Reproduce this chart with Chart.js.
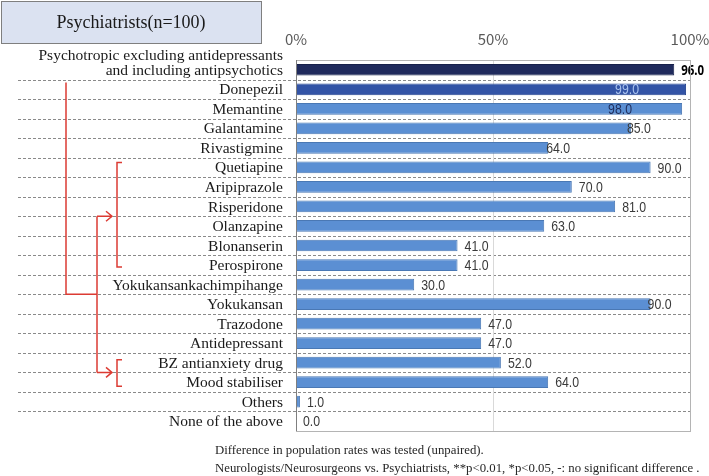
<!DOCTYPE html>
<html>
<head>
<meta charset="utf-8">
<script src="https://cdn.jsdelivr.net/npm/chart.js@4/dist/chart.umd.min.js"></script>
<style>
  html, body { margin: 0; padding: 0; background: #fff; }
  canvas { display: block; }
</style>
</head>
<body>
<canvas id="usageChart" width="709" height="476"></canvas>
<script>
// Chart data
const panelTitle = 'Psychiatrists(n=100)';
const categories = [
  ['Psychotropic excluding antidepressants', 'and including antipsychotics'],
  'Donepezil', 'Memantine', 'Galantamine', 'Rivastigmine',
  'Quetiapine', 'Aripiprazole', 'Risperidone', 'Olanzapine', 'Blonanserin', 'Perospirone',
  'Yokukansankachimpihange', 'Yokukansan', 'Trazodone', 'Antidepressant',
  'BZ antianxiety drug', 'Mood stabiliser', 'Others', 'None of the above'
];
const shares = [96.0, 99.0, 98.0, 85.0, 64.0, 90.0, 70.0, 81.0, 63.0, 41.0, 41.0, 30.0, 90.0, 47.0, 47.0, 52.0, 64.0, 1.0, 0.0];
const xTickLabels = ['0%', '50%', '100%'];
const footnotes = [
  'Difference in population rates was tested (unpaired).',
  'Neurologists/Neurosurgeons vs. Psychiatrists, **p<0.01, *p<0.05, -: no significant difference .'
];

// bar colours by row
function barColor(i) {
  if (i === 0) return '#1f2a5c';
  if (i === 1) return '#3354a6';
  return '#5b8fd3';
}
function barBorder(i) {
  if (i === 0) return '#17204a';
  if (i === 1) return '#2a4790';
  return '#4a78b4';
}

// value label tweaks (label start relative to bar end)
const labelShift = { 1: -71, 2: -74, 3: -4, 4: -2, 12: -3 };
const labelColor = { 0: '#000000', 1: '#a9c2ef', 2: '#1f2d5c' };

const serif = '"Liberation Serif", "DejaVu Serif", serif';

const decorPlugin = {
  id: 'decor',
  beforeDraw(chart) {
    const ctx = chart.ctx;
    const area = chart.chartArea;
    const y = chart.scales.y;
    const band = y.getPixelForValue(1) - y.getPixelForValue(0);

    // title box
    ctx.save();
    ctx.fillStyle = '#dbe2f1';
    ctx.fillRect(1, 1, 261, 43);
    ctx.strokeStyle = '#7f7f7f';
    ctx.lineWidth = 1;
    ctx.strokeRect(1.5, 1.5, 260, 42);
    ctx.fillStyle = '#1a1a1a';
    ctx.font = '18px ' + serif;
    ctx.textAlign = 'center';
    ctx.textBaseline = 'middle';
    ctx.fillText(panelTitle, 131, 23);

    // dashed row separators
    ctx.strokeStyle = '#8a8a8a';
    ctx.setLineDash([3, 2]);
    for (let i = 1; i < categories.length; i++) {
      const yy = Math.round(y.getPixelForValue(i) - band / 2) + 0.5;
      ctx.beginPath();
      ctx.moveTo(18, yy);
      ctx.lineTo(area.right, yy);
      ctx.stroke();
    }
    ctx.restore();
  },
  afterDatasetsDraw(chart) {
    const ctx = chart.ctx;
    const meta = chart.getDatasetMeta(0);
    ctx.save();
    ctx.textBaseline = 'middle';
    ctx.textAlign = 'left';
    meta.data.forEach((bar, i) => {
      const shift = labelShift[i] !== undefined ? labelShift[i] : 7;
      ctx.fillStyle = labelColor[i] || '#3a3a3a';
      ctx.font = i === 0 ? 'bold 14px "Noto Sans", sans-serif' : '15px "Liberation Sans", sans-serif';
      ctx.save();
      ctx.translate(bar.x + shift, bar.y + 1);
      ctx.scale(0.82, 1);
      ctx.fillText(shares[i].toFixed(1), 0, 0);
      ctx.restore();
    });
    ctx.restore();
  },
  afterDraw(chart) {
    const ctx = chart.ctx;
    const area = chart.chartArea;
    const y = chart.scales.y;
    const band = y.getPixelForValue(1) - y.getPixelForValue(0);
    const yC = i => y.getPixelForValue(i);
    const edge = i => yC(i) - band / 2;

    // plot frame
    ctx.save();
    ctx.strokeStyle = '#b4b4b4';
    ctx.lineWidth = 1;
    ctx.strokeRect(Math.round(area.left) + 0.5, Math.round(area.top) + 0.5,
      Math.round(area.right - area.left), Math.round(area.bottom - area.top));
    ctx.strokeStyle = '#7f7f7f';
    ctx.beginPath();
    ctx.moveTo(Math.round(area.left) + 0.5, area.top);
    ctx.lineTo(Math.round(area.left) + 0.5, area.bottom);
    ctx.stroke();

    // category labels
    ctx.fillStyle = '#1a1a1a';
    ctx.font = '15.5px ' + serif;
    ctx.textAlign = 'right';
    ctx.textBaseline = 'middle';
    categories.forEach((c, i) => {
      if (Array.isArray(c)) {
        ctx.fillText(c[0], 283, yC(i) - 14);
        ctx.fillText(c[1], 283, yC(i) + 1);
      } else {
        ctx.fillText(c, 283, yC(i) + 1);
      }
    });

    // red comparison brackets
    ctx.strokeStyle = '#dc3b33';
    ctx.lineWidth = 1.5;
    ctx.beginPath();
    ctx.moveTo(66, edge(1) + 3);
    ctx.lineTo(66, edge(12));
    ctx.lineTo(97, edge(12));
    ctx.moveTo(97, edge(8));
    ctx.lineTo(97, edge(16));
    [edge(8), edge(16)].forEach(ay => {
      ctx.moveTo(97, ay);
      ctx.lineTo(112, ay);
      ctx.moveTo(106, ay - 5);
      ctx.lineTo(112, ay);
      ctx.lineTo(106, ay + 5);
    });
    [[5, 10, -5, 2], [15, 16, -3, 4]].forEach(([a, b, da, db]) => {
      ctx.moveTo(122, yC(a) + da);
      ctx.lineTo(117, yC(a) + da);
      ctx.lineTo(117, yC(b) + db);
      ctx.lineTo(122, yC(b) + db);
    });
    ctx.stroke();

    // footnotes
    ctx.fillStyle = '#262626';
    ctx.font = '12.8px ' + serif;
    ctx.textAlign = 'left';
    ctx.textBaseline = 'middle';
    footnotes.forEach((t, k) => ctx.fillText(t, 215, 451 + k * 18));
    ctx.restore();
  }
};

const ctx = document.getElementById('usageChart');
new Chart(ctx, {
  type: 'bar',
  data: {
    labels: categories,
    datasets: [{
      data: shares,
      backgroundColor: shares.map((_, i) => barColor(i)),
      borderColor: shares.map((_, i) => barBorder(i)),
      borderWidth: 1,
      barPercentage: 0.6,
      categoryPercentage: 1.0
    }]
  },
  options: {
    indexAxis: 'y',
    responsive: false,
    animation: false,
    layout: { padding: { left: 296, right: 19, top: 30, bottom: 45 } },
    plugins: {
      legend: { display: false },
      tooltip: { enabled: false }
    },
    scales: {
      x: {
        position: 'top',
        min: 0,
        max: 100,
        afterFit(scale) {
          scale.height = 30;
          scale.paddingLeft = 0;
          scale.paddingRight = 0;
        },
        border: { display: false },
        grid: {
          drawTicks: false,
          color: c => (c.tick && c.tick.value === 50 ? '#d9d9d9' : 'rgba(0,0,0,0)')
        },
        ticks: {
          stepSize: 50,
          padding: 12,
          color: '#595959',
          font: { family: '"Noto Sans CJK JP", "Noto Sans", sans-serif', size: 15 },
          callback: v => xTickLabels[v / 50]
        }
      },
      y: {
        display: false,
        grid: { display: false }
      }
    }
  },
  plugins: [decorPlugin]
});
</script>
</body>
</html>
